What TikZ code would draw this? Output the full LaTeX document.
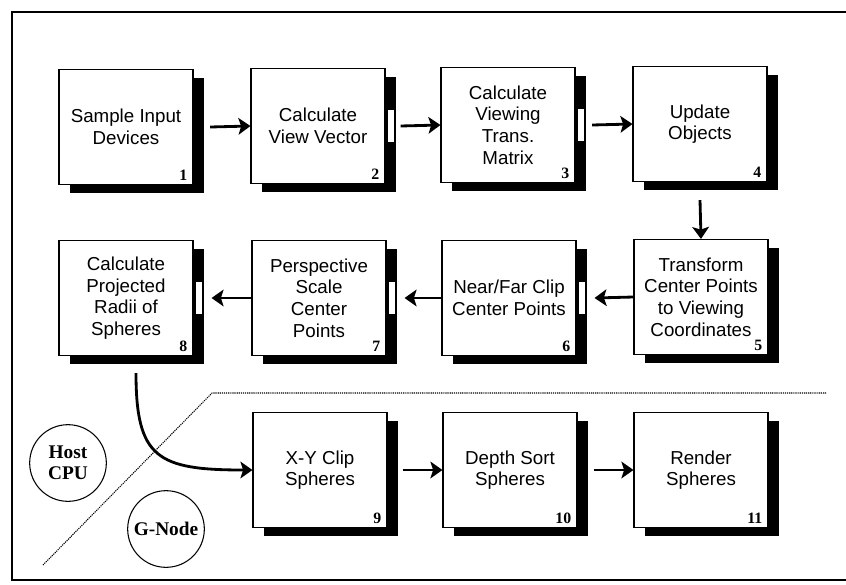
\documentclass[tikz,border=0pt]{standalone}
\usepackage{fontspec}
\setmainfont{Liberation Sans}
\newfontfamily\numfont{Liberation Serif}
\usetikzlibrary{arrows.meta,shadows}

\tikzset{
	stage/.style={draw, line width=0.9pt, fill=white, align=center,
		minimum width=4.02cm, minimum height=3.45cm, inner sep=2pt,
		font=\fontsize{16}{18.5}\selectfont,
		drop shadow={shadow xshift=0.32cm, shadow yshift=-0.26cm, fill=black, opacity=1}},
	num/.style={font=\numfont\bfseries\fontsize{13.5}{13.5}\selectfont, inner sep=0pt, anchor=south east},
	notch/.style={draw, line width=0.5pt, fill=white, minimum width=0.2cm, minimum height=1cm, inner sep=0pt},
	flow/.style={-{Stealth[length=0.36cm, width=0.5cm, inset=0.08cm]}, line width=2.4pt},
	unit/.style={draw, circle, line width=0.9pt, minimum size=2.3cm, inner sep=0pt, align=center,
		font=\numfont\bfseries\fontsize{16.5}{18}\selectfont},
	divider/.style={line width=0.9pt, dash pattern=on 1pt off 0.8pt}
}

\begin{document}
\begin{tikzpicture}[x=0.03cm, y=-0.03cm]
	\useasboundingbox (0,0) rectangle (846,584);
	
	% frame
	\draw[line width=1.6pt] (850,12) -- (12,12) -- (12,580) -- (850,580);
	
	% host stages
	\node[stage] (b1) at (126,127) {Sample Input\\Devices};
	\node[stage] (b2) at (318,126) {Calculate\\View Vector};
	\node[stage] (b3) at (508,125) {Calculate\\Viewing\\Trans.\\Matrix};
	\node[stage] (b4) at (700,124) {Update\\Objects};
	\node[stage] (b5) at (701,297) {Transform\\Center Points\\to Viewing\\Coordinates};
	\node[stage] (b6) at (509,298) {Near/Far Clip\\Center Points};
	\node[stage] (b7) at (319,298) {Perspective\\Scale\\Center\\Points};
	\node[stage] (b8) at (126,298) {Calculate\\Projected\\Radii of\\Spheres};
	
	% g-node stages
	\node[stage] (b9) at (320,470) {X-Y Clip\\Spheres};
	\node[stage] (b10) at (510,470) {Depth Sort\\Spheres};
	\node[stage] (b11) at (701,470) {Render\\Spheres};
	
	\foreach \n in {1,...,11}
		\node[num] at ([shift={(-6,-4)}]b\n.south east) {\n};
	\foreach \b in {2,3,6,7,8}
		\node[notch] at ([xshift=0.16cm]b\b.east) {};
	
	% processors
	\node[unit] (host) at (68,463) {Host\\CPU};
	\node[unit] (gnode) at (166,529) {G-Node};
	
	\coordinate (d1) at (43,565);
	\coordinate (d2) at (212,393);
	\coordinate (d3) at (826,393);
	\draw[divider] (d1) -- (d2) -- (d3);
	
	% flow
	\draw[flow] ([xshift=0.5cm]b1.east) -- (b2.west);
	\draw[flow] ([xshift=0.45cm]b2.east) -- (b3.west);
	\draw[flow] ([xshift=0.5cm]b3.east) -- (b4.west);
	\draw[flow] ([yshift=-0.54cm]b4.south) -- (b5.north);
	\draw[flow] (b5.west) -- ([xshift=0.54cm]b6.east);
	\draw[flow] (b6.west) -- ([xshift=0.54cm]b7.east);
	\draw[flow] (b7.west) -- ([xshift=0.54cm]b8.east);
	\draw[flow] ([shift={(10,17)}]b8.south) .. controls +(0,85) and +(-95,0) .. (b9.west);
	\draw[flow] ([xshift=0.45cm]b9.east) -- (b10.west);
	\draw[flow] ([xshift=0.48cm]b10.east) -- (b11.west);
	
\end{tikzpicture}
\end{document}
